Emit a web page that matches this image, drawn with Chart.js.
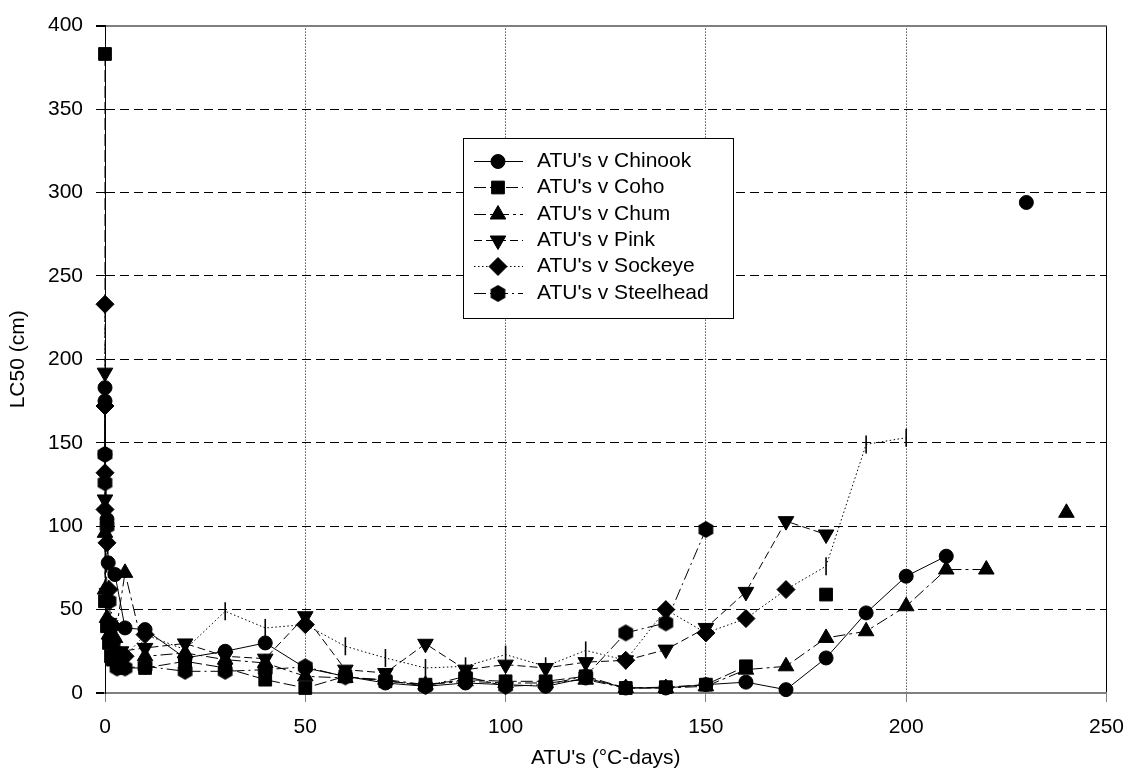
<!DOCTYPE html>
<html lang="en">
  <head>
    <meta charset="UTF-8" />
    <title>ATU's v LC50</title>
    <script src="https://cdn.jsdelivr.net/npm/chart.js"></script>
    <style>
      body { margin: 0; background: #fff; }
      .grafico { width: 1137px; height: 778px; }
    </style>
  </head>
  <body>
    <div class="grafico"><canvas id="lc50Chart"></canvas></div>

    <script>
      // valores (x = ATU's, y = LC50 cm)
      const chinookX = [0, 0, 0, 0.5, 0.8, 2.5, 5, 10, 20, 30, 40, 50, 60, 70, 80, 90, 100, 110, 120, 130, 140, 150, 160, 170, 180, 190, 200, 210, 220, 230];
      const chinookY = [183, 175, 143, 104, 78, 71, 39, 38, 21, 25, 30, 15, 10, 6, 4, 6, 5, 4, 9, 3, 3, 5, 6.5, 2, 21, 48, 70, 82, null, 294];

      const cohoX = [0, 0, 0.5, 1, 1.5, 2, 3, 4, 10, 20, 30, 40, 50, 60, 70, 80, 90, 100, 110, 120, 130, 140, 150, 160, 170, 180];
      const cohoY = [383, 55, 40, 30, 22, 20, 18, 15, 15, 19, 15, 8, 3, 10, 7, 5, 8, 7, 7, 10, 3, 3.5, 5, 16, null, 59];

      const chumX = [0, 0, 0.5, 1, 2.5, 5, 10, 20, 30, 40, 50, 60, 70, 80, 90, 100, 110, 120, 130, 140, 150, 160, 170, 180, 190, 200, 210, 220, 230, 240];
      const chumY = [96, 62, 45, 35, 33, 72, 22, 24, 20, 18, 10, 9, 8, 5, 7, 6, 6, 8, 3, 3, 4, 14, 16, 33, 37, 52, 74, 74, null, 108];

      const pinkX = [0, 0, 0.5, 1, 2, 4, 10, 20, 30, 40, 50, 60, 70, 80, 90, 100, 110, 120, 130, 140, 150, 160, 170, 180];
      const pinkY = [192, 116, 60, 42, 30, 25, 27, 29.7, 22, 20.6, 46, 14, 12, 29.5, 14, 17, 15, 18.5, 19.6, 26, 39, 60.6, 103, 95];

      const sockeyeX = [0, 0, 0, 0, 0.5, 1, 2, 5, 10, 20, 30, 40, 50, 60, 70, 80, 90, 100, 110, 120, 130, 140, 150, 160, 170, 180, 190, 200];
      const sockeyeY = [233, 172, 132, 110, 90, 62, 40, 22, 35, 26, 49, 39, 41, 28, 21, 15, 16, 23, 16, 25.5, 19.6, 50, 36, 44.6, 62, 76, 149, 153];
      // pontos marcados com "|" em vez de losango
      const sockeyeBarra = [20, 30, 40, 60, 70, 80, 90, 100, 110, 120, 180, 190, 200];

      const steelheadX = [0, 0, 0.5, 1, 2, 3, 5, 10, 20, 30, 40, 50, 60, 70, 80, 90, 100, 110, 120, 130, 140, 150];
      const steelheadY = [143, 126, 100, 55, 30, 15, 15, 16, 13, 13, 14, 15.7, 9.7, 7.7, 4, 10, 4, 5, 10, 36, 42, 98];

      const xTicks = [0, 50, 100, 150, 200, 250];
      const yTicks = [0, 50, 100, 150, 200, 250, 300, 350, 400];

      const fonte = { family: "'Liberation Sans', Arial, sans-serif", size: 21 };

      function pontos(xs, ys) {
        return xs.map((x, i) => ({ x: x, y: ys[i] }));
      }

      // marcador hexagonal (Chart.js nao tem)
      function hexagono(r) {
        const c = document.createElement("canvas");
        const s = Math.ceil(r * 2) + 2;
        c.width = s;
        c.height = s;
        const g = c.getContext("2d");
        g.beginPath();
        for (let i = 0; i < 6; i++) {
          const a = (Math.PI / 3) * i - Math.PI / 2;
          g.lineTo(s / 2 + r * Math.cos(a), s / 2 + r * Math.sin(a));
        }
        g.closePath();
        g.fillStyle = "#000";
        g.fill();
        return c;
      }
      const hexImg = hexagono(8.5);

      const legendaMarcador = ["circle", "rect", "triangle", "triangle", "rectRot", hexImg];
      const legendaRotacao = [0, 0, 0, 180, 0, 0];
      const legendaRaio = [7, 9, 9, 9, 9, 8.5];

      function serie(label, xs, ys, i, dash) {
        return {
          label: label,
          data: pontos(xs, ys),
          borderColor: "#000",
          backgroundColor: "#000",
          borderWidth: 1,
          borderDash: dash,
          pointStyle: legendaMarcador[i],
          pointRotation: legendaRotacao[i],
          pointRadius: legendaRaio[i],
          pointBorderWidth: 1,
          pointBackgroundColor: "#000",
          pointBorderColor: "#000",
          clip: false,
        };
      }

      const dsSockeye = serie("ATU's v Sockeye", sockeyeX, sockeyeY, 4, [1.5, 2.5]);
      dsSockeye.pointStyle = sockeyeX.map((x, i) => (i > 8 && sockeyeBarra.includes(x) ? "line" : "rectRot"));
      dsSockeye.pointRotation = sockeyeX.map((x, i) => (i > 8 && sockeyeBarra.includes(x) ? 90 : 0));
      dsSockeye.pointBorderWidth = sockeyeX.map((x, i) => (i > 8 && sockeyeBarra.includes(x) ? 1.6 : 1));

      const datasets = [
        serie("ATU's v Chinook", chinookX, chinookY, 0, []),
        serie("ATU's v Coho", cohoX, cohoY, 1, [12, 4]),
        serie("ATU's v Chum", chumX, chumY, 2, [12, 4, 3, 4]),
        serie("ATU's v Pink", pinkX, pinkY, 3, [8, 4]),
        dsSockeye,
        serie("ATU's v Steelhead", steelheadX, steelheadY, 5, [12, 4, 2, 4]),
      ];

      // caixa de legenda dentro da area do grafico
      const legendaCaixa = {
        id: "legendaCaixa",
        afterDraw(chart) {
          const ctx = chart.ctx;
          ctx.save();
          ctx.fillStyle = "#fff";
          ctx.fillRect(463, 138, 270, 180);
          ctx.strokeStyle = "#000";
          ctx.lineWidth = 1;
          ctx.setLineDash([]);
          ctx.strokeRect(463.5, 138.5, 270, 180);
          ctx.font = "21px 'Liberation Sans', Arial, sans-serif";
          ctx.textBaseline = "middle";
          chart.data.datasets.forEach((ds, i) => {
            const y = Math.round(161 + i * 26.3) + 0.5;
            ctx.strokeStyle = "#000";
            ctx.lineWidth = 1;
            ctx.setLineDash(ds.borderDash || []);
            ctx.beginPath();
            ctx.moveTo(474, y);
            ctx.lineTo(523, y);
            ctx.stroke();
            ctx.setLineDash([]);
            ctx.fillStyle = "#000";
            if (Chart.helpers && Chart.helpers.drawPoint) {
              Chart.helpers.drawPoint(ctx, {
                pointStyle: legendaMarcador[i],
                rotation: legendaRotacao[i],
                radius: legendaRaio[i],
                borderWidth: 1,
              }, 498, y);
            }
            ctx.fillStyle = "#000";
            ctx.fillText(ds.label, 537, y);
          });
          ctx.restore();
        },
      };

      const ehBorda = (v) => v === 0 || v === 400;

      const config = {
        type: "line",
        data: { datasets: datasets },
        options: {
          responsive: true,
          maintainAspectRatio: false,
          animation: false,
          devicePixelRatio: 1,
          layout: { padding: { top: 20, right: 22, left: 0, bottom: 0 } },
          plugins: {
            legend: { display: false },
            tooltip: { enabled: false },
          },
          scales: {
            x: {
              type: "linear",
              min: 0,
              max: 250,
              afterBuildTicks: (s) => { s.ticks = xTicks.map((v) => ({ value: v })); },
              afterFit: (s) => { s.height = 85; },
              ticks: { color: "#000", font: fonte, padding: 13, maxRotation: 0 },
              grid: {
                color: (c) => (c.tick && c.tick.value === 0 ? "rgba(0,0,0,0)" : "#000"),
                tickColor: "#808080",
                tickLength: 9,
                lineWidth: 1,
              },
              border: {
                color: "#808080",
                width: 2,
                dash: (c) => (c.tick && c.tick.value === 250 ? [] : [1, 2]),
              },
              title: {
                display: true,
                text: "ATU's (°C-days)",
                color: "#000",
                font: fonte,
                padding: { top: 0, bottom: 7 },
              },
            },
            y: {
              min: 0,
              max: 400,
              afterBuildTicks: (s) => { s.ticks = yTicks.map((v) => ({ value: v })); },
              afterFit: (s) => { s.width = 105; },
              ticks: { color: "#000", font: fonte, padding: 13 },
              grid: {
                color: (c) => (c.tick && ehBorda(c.tick.value) ? "#808080" : "#000"),
                lineWidth: (c) => (c.tick && ehBorda(c.tick.value) ? 2 : 1),
                tickColor: "#000",
                tickLength: 9,
              },
              border: {
                color: "#000",
                width: 1,
                dash: (c) => (c.tick && ehBorda(c.tick.value) ? [] : [9, 5]),
              },
              title: {
                display: true,
                text: "LC50 (cm)",
                color: "#000",
                font: fonte,
                padding: { top: 6, bottom: 0 },
              },
            },
          },
        },
        plugins: [legendaCaixa],
      };

      const lc50Chart = new Chart(document.getElementById("lc50Chart"), config);
    </script>
  </body>
</html>
